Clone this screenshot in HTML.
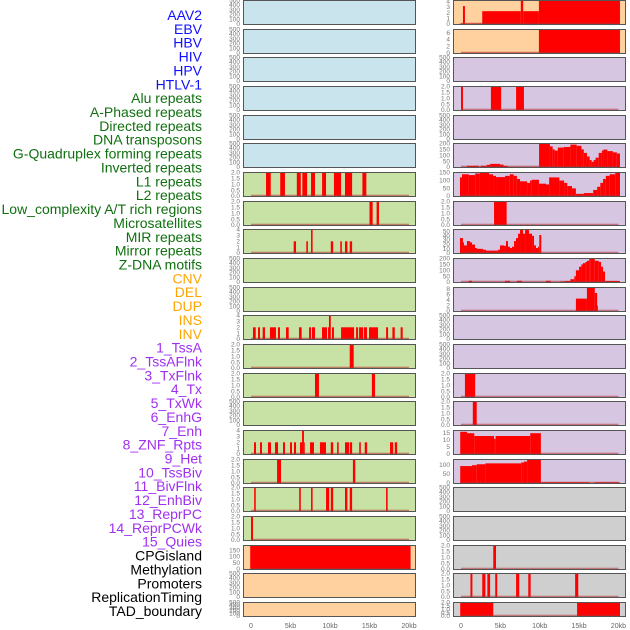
<!DOCTYPE html>
<html><head><meta charset="utf-8"><style>
html,body{margin:0;padding:0;background:#fff;width:630px;height:630px;overflow:hidden}
svg{display:block;font-family:"Liberation Sans",sans-serif}
</style></head><body>
<svg id="chart" width="630" height="630"></svg>
<script>
// Labels
const labels = ["AAV2","EBV","HBV","HIV","HPV","HTLV-1","Alu repeats","A-Phased repeats","Directed repeats","DNA transposons","G-Quadruplex forming repeats","Inverted repeats","L1 repeats","L2 repeats","Low_complexity A/T rich regions","Microsatellites","MIR repeats","Mirror repeats","Z-DNA motifs","CNV","DEL","DUP","INS","INV","1_TssA","2_TssAFlnk","3_TxFlnk","4_Tx","5_TxWk","6_EnhG","7_Enh","8_ZNF_Rpts","9_Het","10_TssBiv","11_BivFlnk","12_EnhBiv","13_ReprPC","14_ReprPCWk","15_Quies","CPGisland","Methylation","Promoters","ReplicationTiming","TAD_boundary"];
const labelColors = ["#1010ff","#1010ff","#1010ff","#1010ff","#1010ff","#1010ff","#107010","#107010","#107010","#107010","#107010","#107010","#107010","#107010","#107010","#107010","#107010","#107010","#107010","#ffa500","#ffa500","#ffa500","#ffa500","#ffa500","#a030f0","#a030f0","#a030f0","#a030f0","#a030f0","#a030f0","#a030f0","#a030f0","#a030f0","#a030f0","#a030f0","#a030f0","#a030f0","#a030f0","#a030f0","#000","#000","#000","#000","#000"];
const xTickValues = [0,5,10,15,20];
const xTickLabels = ["0","5kb","10kb","15kb","20kb"];
const ticksEmpty = [0,100,200,300,400,500];
const ticks2 = [0,0.5,1,1.5,2];
const ticks4 = [0,1,2,3,4];
// segments [startKb, endKb, value]
const alu = [[1.9,2.5,2],[3.7,4.3,2],[5.8,6.3,2],[6.5,7.1,2],[7.6,8.1,2],[9.0,9.5,2],[10.5,11.4,2],[11.9,12.8,2],[14.1,14.6,2]];
const aphased = [[15.0,15.4,2],[15.9,16.2,2]];
const directed = [[5.4,5.7,2],[7.0,7.2,2],[7.6,7.8,4],[10.1,10.4,2],[11.3,11.5,2],[11.9,12.2,2],[12.5,12.8,2]];
const inverted = [[0.25,0.6,2],[0.89,1.14,2],[1.48,1.77,2],[2.4,3.16,2],[3.41,3.67,2],[4.43,4.77,2],[6.08,6.41,2],[7.35,7.6,2],[7.72,8.1,2],[8.99,9.62,2],[9.75,9.87,2],[9.87,10.1,4],[10.25,10.5,2],[11.4,13.05,2],[13.3,13.55,2],[13.68,14.2,2],[14.3,14.68,2],[14.94,16.08,2],[17.1,17.35,2],[17.9,18.2,2],[18.94,19.2,2]];
const l1 = [[12.5,13.0,2]];
const l2 = [[8.1,8.6,2],[15.3,15.7,2]];
const micro = [[0.38,0.63,2],[1.14,1.39,2],[2.15,2.53,2],[3.04,3.42,2],[4.05,4.3,2],[4.94,5.19,2],[5.44,5.7,2],[6.2,6.46,2],[6.46,6.7,4],[6.7,6.8,2],[7.47,7.97,2],[8.73,9.49,2],[10.1,10.4,2],[10.9,11.1,2],[11.9,12.4,2],[12.5,12.8,2],[13.7,13.9,2],[14.4,14.7,2],[17.6,18.0,2],[18.2,18.5,2]];
const mir = [[3.3,3.8,2],[12.9,13.2,2]];
const mirror = [[0.4,0.6,2],[6.1,6.3,2],[7.6,7.8,2],[9.5,9.9,2],[10.1,10.4,2],[11.9,12.2,2],[12.5,12.8,2],[17.1,17.3,2]];
const zdna = [[0.0,0.25,2]];
const cnv = [[-0.1,20.2,190]];
const ins = [[-0.2,0.25,0.1],[0.25,0.5,3.2],[0.5,2.7,0.1],[2.7,7.6,2.3],[7.6,7.9,4.2],[7.9,9.9,2.3],[9.9,20.2,4.2]];
const inv = [[0,9.9,0.1],[9.9,20.2,7]];
const tssAFlnk = [[0,0.25,2],[3.8,5.1,2],[7.0,8.0,2]];
const txFlnk = [[0,0.76,3],[0.76,2.25,12],[2.25,2.5,3],[2.5,3.26,12],[3.26,3.7,20],[3.7,4.95,28],[4.95,5.4,22],[5.4,5.9,12],[5.9,9.92,3],[9.92,11.3,200],[11.3,11.65,175],[11.65,11.9,150],[11.9,12.3,140],[12.3,13.05,165],[13.05,13.9,170],[13.9,14.7,190],[14.7,15.3,180],[15.3,15.6,150],[15.6,16.0,120],[16.0,16.35,90],[16.35,16.6,60],[16.6,16.85,45],[16.85,17.1,60],[17.1,17.5,80],[17.5,17.9,120],[17.9,18.1,140],[18.1,18.6,148],[18.6,19.3,135],[19.3,19.8,125],[19.8,20.2,115]];
const tx = [[-0.13,0.13,120],[0.13,1.0,140],[1.0,1.8,135],[1.8,2.4,145],[2.4,3.56,148],[3.56,4.07,140],[4.07,4.45,130],[4.45,5.6,122],[5.6,6.2,130],[6.2,6.7,140],[6.7,7.1,130],[7.1,7.5,110],[7.5,8.4,95],[8.4,8.77,85],[8.77,9.0,100],[9.0,9.9,105],[9.9,10.8,80],[10.8,11.2,75],[11.2,12.5,120],[12.5,13.1,100],[13.1,13.5,85],[13.5,14.1,65],[14.1,14.6,50],[14.6,15.6,15],[15.6,16.8,20],[16.8,17.3,40],[17.3,17.7,60],[17.7,18.05,85],[18.05,18.4,110],[18.4,18.9,130],[18.9,19.6,140],[19.6,20.2,148]];
const txWk = [[4.2,5.8,2]];
const enhG = [[-0.13,0.25,35],[0.25,0.38,25],[0.38,0.76,18],[0.76,1.14,28],[1.14,1.4,25],[1.4,1.78,20],[1.78,2.03,12],[2.03,2.8,10],[2.8,3.18,8],[3.18,4.7,6],[4.7,4.96,8],[4.96,5.47,18],[5.47,5.72,17],[5.72,5.97,28],[5.97,6.23,15],[6.23,6.48,12],[6.48,6.74,15],[6.74,6.99,28],[6.99,7.25,35],[7.25,7.5,45],[7.5,7.88,55],[7.88,8.14,45],[8.14,8.64,55],[8.64,9.03,45],[9.03,9.28,40],[9.28,9.53,18],[9.53,9.79,12],[9.79,9.95,15],[9.95,10.2,42]];
const enh = [[0.97,1.4,12],[5.6,6.23,12],[7.12,7.75,12],[10.8,11.4,12],[12.6,13.2,5],[13.2,13.9,10],[13.9,14.4,25],[14.4,14.6,50],[14.6,15.0,100],[15.0,15.3,130],[15.3,15.5,150],[15.5,15.8,160],[15.8,16.0,170],[16.0,16.3,180],[16.3,16.5,195],[16.5,17.0,200],[17.0,17.5,180],[17.5,17.8,170],[17.8,18.05,130],[18.05,18.3,90],[18.3,20.2,10]];
const znf = [[14.6,16.0,4.5],[16.0,17.0,8.5],[17.0,17.3,6.5],[17.3,17.4,2]];
const bivFlnk = [[0.5,1.8,2]];
const enhBiv = [[1.5,2.0,2]];
const reprPC = [[-0.1,0.76,16],[0.76,1.69,15],[1.69,4.2,13],[4.2,4.4,11],[4.4,8.8,13],[8.8,10.15,15]];
const reprPCWk = [[-0.1,1.4,95],[1.4,2.0,100],[2.0,3.1,105],[3.1,7.65,110],[7.65,8.0,115],[8.0,8.4,120],[8.4,10.15,130],[10.15,16.3,5],[17.0,20.2,5]];
const cpg = [[4.1,4.45,2]];
const methyl = [[1.2,1.45,2],[2.7,3.1,2],[3.35,3.7,2],[4.35,4.6,2],[7.0,7.4,2],[8.55,8.85,2],[14.5,14.9,2]];
const tad = [[-0.1,4.1,2],[14.75,20.2,2]];

const BLUE="#c9e4ec",GREEN="#c8e1a4",ORANGE="#fed19e",PURPLE="#d6c6e2",GRAY="#cfcfcf";
const leftPanels = [
 [null,500,ticksEmpty,BLUE,"aav2"],[null,500,ticksEmpty,BLUE,"ebv"],[null,500,ticksEmpty,BLUE,"hbv"],[null,500,ticksEmpty,BLUE,"hiv"],[null,500,ticksEmpty,BLUE,"hpv"],[null,500,ticksEmpty,BLUE,"htlv1"],
 [alu,2,ticks2,GREEN,"alu"],[aphased,2,ticks2,GREEN,"aphased"],[directed,4,ticks4,GREEN,"directed"],[null,500,ticksEmpty,GREEN,"dna-transposons"],[null,500,ticksEmpty,GREEN,"g-quadruplex"],
 [inverted,4,ticks4,GREEN,"inverted"],[l1,2,ticks2,GREEN,"l1"],[l2,2,ticks2,GREEN,"l2"],[null,500,ticksEmpty,GREEN,"low-complexity"],[micro,4,ticks4,GREEN,"microsatellites"],
 [mir,2,ticks2,GREEN,"mir"],[mirror,2,ticks2,GREEN,"mirror"],[zdna,2,ticks2,GREEN,"zdna"],[cnv,190,[0,50,100,150],ORANGE,"cnv"],[null,500,ticksEmpty,ORANGE,"del"],[null,500,ticksEmpty,ORANGE,"dup"]];
const rightPanels = [
 [ins,4.2,ticks4,ORANGE,"ins"],[inv,7,[0,2,4,6],ORANGE,"inv"],[null,500,ticksEmpty,PURPLE,"tssa"],[tssAFlnk,2,ticks2,PURPLE,"tssaflnk"],[null,500,ticksEmpty,PURPLE,"txflnk-empty"],
 [txFlnk,200,[0,50,100,150,200],PURPLE,"txflnk"],[tx,152,[0,50,100,150],PURPLE,"tx"],[txWk,2,ticks2,PURPLE,"txwk"],[enhG,55,[0,10,20,30,40,50],PURPLE,"enhg"],[enh,200,[0,50,100,150,200],PURPLE,"enh"],
 [znf,8.5,[0,2,4,6,8],PURPLE,"znf"],[null,500,ticksEmpty,PURPLE,"het"],[null,500,ticksEmpty,PURPLE,"tssbiv"],[bivFlnk,2,ticks2,PURPLE,"bivflnk"],[enhBiv,2,ticks2,PURPLE,"enhbiv"],
 [reprPC,17,[0,5,10,15],PURPLE,"reprpc"],[reprPCWk,132,[0,50,100],PURPLE,"reprpcwk"],[null,500,ticksEmpty,GRAY,"quies"],[null,500,ticksEmpty,GRAY,"cpgisland"],[cpg,2,ticks2,GRAY,"methylation"],[methyl,2,ticks2,GRAY,"promoters"],[tad,2,ticks2,GRAY,"tad"]];

const NS="http://www.w3.org/2000/svg";
const svg=document.getElementById("chart");
function mk(tag,attrs,parent){const e=document.createElementNS(NS,tag);for(const k in attrs)e.setAttribute(k,attrs[k]);(parent||svg).appendChild(e);return e;}

labels.forEach((t,i)=>{
 const e=mk("text",{x:202,y:15+i*13.86+5,"text-anchor":"end","font-size":14,fill:labelColors[i]});
 e.textContent=t;
 
 
});

function drawColumn(panels,px,x0,pxPerKb,colName){
 const xs=kb=>x0+kb*pxPerKb;
 panels.forEach((p,i)=>{
  const [data,ymax,ticks,bg,name]=p;
  const top=Math.round(i*28.67), h=(i===21?15:25);
  const g=mk("g",{});
  
  
  mk("rect",{x:px,y:top,width:173,height:h,fill:bg},g);
  const bottom=top+h-0.8;
  const ys=v=>bottom-v/ymax*(h-1.2);
  if(data){
   data.forEach(s=>{
    const r=mk("rect",{x:xs(s[0]),y:ys(s[2]),width:Math.max(0.8,xs(s[1])-xs(s[0])),height:bottom-ys(s[2]),fill:"#ff0000"},g);
    
    
   });
   mk("rect",{x:xs(0),y:bottom-1.5,width:xs(20)-xs(0),height:1.5,fill:"#b03030",opacity:0.55},g);
  }
  mk("rect",{x:px+0.5,y:top+0.5,width:172,height:h-1,fill:"none",stroke:"#555",'stroke-width':1},g);
  ticks.forEach((t,k)=>{
   const tx=mk("text",{x:px-3,y:ys(t)+2,"text-anchor":"end","font-size":6.5,fill:"#777"},g);
   tx.textContent=(ymax<=4.3&&ticks===ticks2)?t.toFixed(1):String(t);
   
   
  });
 });
 xTickValues.forEach((v,k)=>{
  const t=mk("text",{x:xs(v),y:628,"text-anchor":"middle","font-size":7,fill:"#666"});
  t.textContent=xTickLabels[k];
  
  
 });
}
drawColumn(leftPanels,243,251,7.9,"left");
drawColumn(rightPanels,453,461,7.87,"right");
</script>
</body></html>
